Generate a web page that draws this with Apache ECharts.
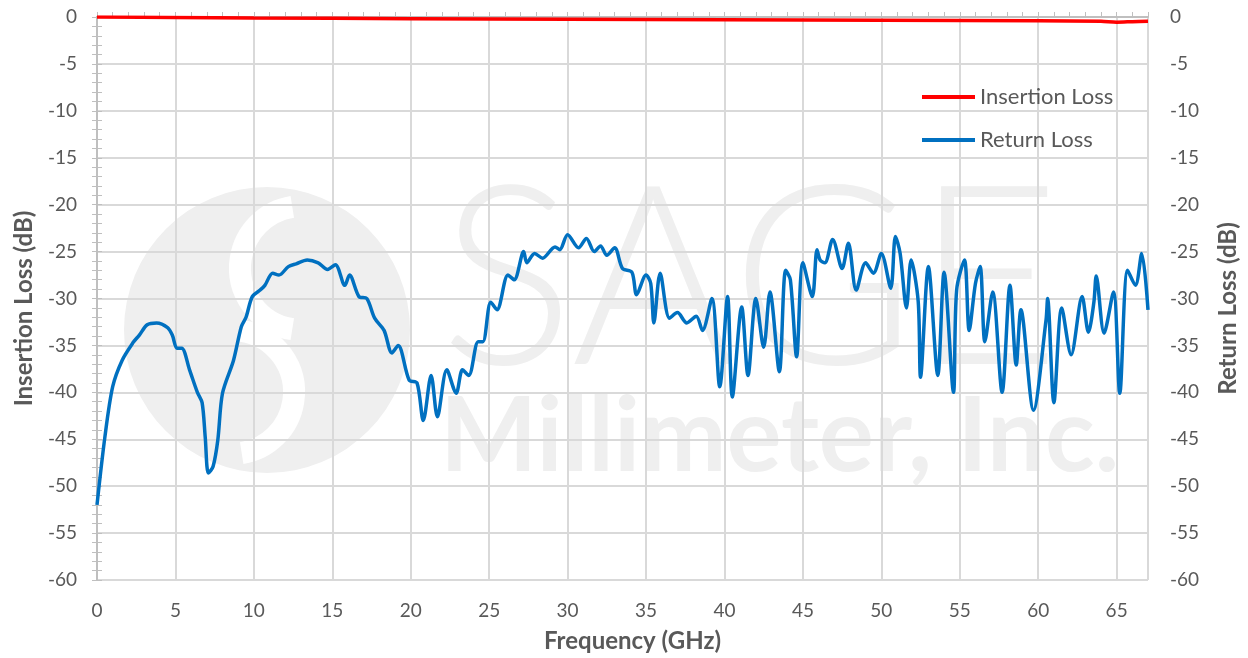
<!DOCTYPE html>
<html>
<head>
<meta charset="utf-8">
<script src="https://cdn.jsdelivr.net/npm/echarts@6/dist/echarts.min.js"></script>
<style>
  html, body { margin: 0; padding: 0; background: #fff; }
  #chart { width: 1248px; height: 658px; }
</style>
</head>
<body>
<div id="chart"></div>
<script>
// insertion loss, [GHz, dB]
const insertionLoss = [
  [0, 0], [5, -0.05], [10, -0.1], [20, -0.18], [30, -0.25], [40, -0.3],
  [50, -0.35], [60, -0.4], [64, -0.45], [65, -0.55], [66, -0.5], [67, -0.45]
];

// return loss, [GHz, dB]
const returnLoss = [
  [0, -52], [0.5, -44.8], [1.0, -39.4], [1.6, -36.6], [2.3, -34.7], [2.7, -33.9],
  [3.2, -32.8], [3.8, -32.6], [4.5, -33.1], [4.8, -33.9], [5.1, -35.3], [5.4, -35.3],
  [5.9, -37.6], [6.4, -40.0], [6.7, -41.1], [6.9, -44.8], [7.1, -48.6], [7.4, -47.9],
  [7.7, -45.1], [8.0, -40.1], [8.7, -36.6], [9.2, -33.0], [9.5, -32.0], [9.9, -29.8],
  [10.4, -29.1], [10.7, -28.6], [11.2, -27.3], [11.6, -27.5], [12.2, -26.6], [12.7, -26.3],
  [13.4, -25.9], [14.1, -26.2], [14.7, -26.9], [15.2, -26.4], [15.8, -28.6], [16.1, -27.5],
  [16.7, -29.8], [17.2, -30.0], [17.7, -32.1], [18.3, -33.4], [18.8, -35.8], [19.2, -35.0],
  [19.9, -38.7], [20.4, -39.0], [20.8, -43.0], [21.3, -38.2], [21.7, -42.6], [22.3, -37.6],
  [22.9, -40.1], [23.3, -37.6], [23.7, -38.2], [24.3, -34.6], [24.6, -34.6], [25.1, -30.4],
  [25.5, -31.2], [26.2, -27.5], [26.6, -28.0], [27.2, -25.0], [27.4, -26.2], [27.9, -25.2],
  [28.4, -25.7], [29.2, -24.5], [29.5, -24.8], [30.0, -23.2], [30.7, -24.6], [31.2, -23.6],
  [31.7, -25.0], [32.1, -24.4], [32.5, -25.4], [33.0, -24.6], [33.5, -26.8], [34.1, -27.2],
  [34.4, -29.6], [35.0, -27.5], [35.3, -28.4], [35.5, -32.6], [35.9, -27.3], [36.5, -32.1],
  [37.0, -31.5], [37.6, -32.6], [38.2, -31.9], [38.6, -33.4], [39.2, -30.0], [39.7, -39.4],
  [40.2, -29.8], [40.5, -40.5], [41.1, -30.9], [41.5, -38.2], [42.0, -30.0], [42.5, -35.2],
  [42.9, -29.3], [43.5, -37.8], [43.9, -27.0], [44.2, -28.0], [44.6, -36.2], [45.0, -26.2],
  [45.6, -29.8], [45.9, -24.8], [46.1, -25.9], [46.4, -26.2], [46.9, -23.7], [47.5, -26.8],
  [47.9, -24.1], [48.4, -29.1], [49.0, -26.2], [49.5, -27.3], [50.0, -25.2], [50.6, -28.9],
  [50.9, -23.4], [51.2, -25.2], [51.6, -31.0], [51.9, -25.9], [52.35, -30.3], [52.5, -38.4],
  [53.0, -26.6], [53.6, -38.2], [54.0, -27.2], [54.6, -40.0], [54.8, -29.1], [55.3, -25.9],
  [55.6, -33.4], [56.0, -28.4], [56.3, -26.6], [56.6, -34.6], [57.1, -29.3], [57.7, -40.0],
  [58.2, -28.6], [58.6, -37.1], [58.9, -31.2], [59.7, -41.9], [60.5, -32.3], [60.6, -30.0],
  [61.0, -41.1], [61.5, -31.0], [62.1, -36.0], [62.8, -29.8], [63.2, -33.6], [63.55, -30.4],
  [63.7, -27.6], [64.2, -33.7], [64.8, -29.3], [65.2, -40.1], [65.7, -27.0], [66.2, -28.6],
  [66.6, -25.2], [67.0, -31.2]
];

const seriesNames = ['Insertion Loss', 'Return Loss'];
const seriesColors = ['#ff0000', '#0070c0'];

const axisGrey = '#bfbfbf';
const gridGrey = '#d9d9d9';
const textGrey = '#595959';
const wmGrey = '#efefef';

const chart = echarts.init(document.getElementById('chart'));

const yAxisBase = {
  type: 'value',
  min: -60,
  max: 0,
  interval: 5,
  axisLine: { show: true, lineStyle: { color: axisGrey, width: 2 } },
  axisTick: { show: true, inside: true, length: 5, lineStyle: { color: axisGrey } },
  minorTick: { show: true, splitNumber: 5, length: 5, lineStyle: { color: axisGrey } },
  nameLocation: 'middle',
  nameRotate: 90,
  // right padding nudges the rotated title a little downwards, like the original
  nameTextStyle: { fontSize: 24, fontWeight: 'bold', color: textGrey, padding: [0, 20, 0, 0] }
};

const option = {
  textStyle: { fontFamily: 'Lato' },
  animation: false,
  grid: { left: 97, right: 100, top: 17, bottom: 78 },
  legend: {
    data: seriesNames,
    orient: 'vertical',
    left: 922,
    top: 86,
    padding: 0,
    itemGap: 21,
    itemWidth: 53,
    itemHeight: 4,
    icon: 'rect',
    textStyle: { fontSize: 22, color: textGrey }
  },
  graphic: [
    {
      type: 'group',
      z: -10,
      silent: true,
      children: [
        { type: 'circle', shape: { cx: 267, cy: 330, r: 143 }, style: { fill: wmGrey } },
        { type: 'arc', shape: { cx: 302, cy: 268, r: 62, startAngle: Math.PI * 0.55, endAngle: Math.PI * 1.45, clockwise: true },
          style: { stroke: '#fff', lineWidth: 22, fill: null } },
        { type: 'arc', shape: { cx: 232, cy: 392, r: 62, startAngle: -Math.PI * 0.45, endAngle: Math.PI * 0.45, clockwise: true },
          style: { stroke: '#fff', lineWidth: 22, fill: null } },
        { type: 'text', left: 440, top: 158,
          style: { text: 'SAGE', fontSize: 250, fontWeight: 300, fontFamily: 'Lato', fill: wmGrey } },
        { type: 'text', left: 440, top: 386,
          style: { text: 'Millimeter, Inc.', fontSize: 103, fontWeight: 'bold', fontFamily: 'Lato', fill: wmGrey } }
      ]
    }
  ],
  xAxis: [
    {
      type: 'value',
      min: 0,
      max: 67,
      interval: 5,
      name: 'Frequency (GHz)',
      nameLocation: 'middle',
      nameGap: 49,
      nameTextStyle: { fontSize: 24, fontWeight: 'bold', color: textGrey, padding: [0, 0, 0, 20] },
      axisLine: { show: true, lineStyle: { color: axisGrey, width: 2 } },
      axisTick: { show: false },
      axisLabel: {
        fontSize: 19,
        color: textGrey,
        margin: 21,
        formatter: (v) => (v % 5 === 0 ? String(v) : '')
      },
      splitLine: { show: true, lineStyle: { color: gridGrey, width: 2 } }
    },
    {
      // minor ticks every 1 GHz
      type: 'value',
      min: 0,
      max: 67,
      interval: 1,
      position: 'bottom',
      axisLine: { show: false },
      axisTick: { show: true, inside: true, length: 5, lineStyle: { color: axisGrey } },
      axisLabel: { show: false },
      splitLine: { show: false }
    }
  ],
  yAxis: [
    Object.assign({}, yAxisBase, {
      position: 'left',
      name: 'Insertion Loss (dB)',
      nameGap: 61,
      axisLabel: { fontSize: 19, color: textGrey, margin: 20 },
      splitLine: { show: true, lineStyle: { color: gridGrey, width: 2 } }
    }),
    Object.assign({}, yAxisBase, {
      position: 'right',
      name: 'Return Loss (dB)',
      nameGap: 68,
      axisLabel: { fontSize: 19, color: textGrey, margin: 22 },
      splitLine: { show: false }
    })
  ],
  series: [
    {
      name: seriesNames[0],
      type: 'line',
      data: insertionLoss,
      showSymbol: false,
      smooth: 0.3,
      z: 3,
      itemStyle: { color: seriesColors[0] },
      lineStyle: { color: seriesColors[0], width: 3.5 }
    },
    {
      name: seriesNames[1],
      type: 'line',
      data: returnLoss,
      showSymbol: false,
      smooth: 0.3,
      z: 2,
      itemStyle: { color: seriesColors[1] },
      lineStyle: { color: seriesColors[1], width: 3.5 }
    }
  ]
};

chart.setOption(option);
</script>
</body>
</html>
